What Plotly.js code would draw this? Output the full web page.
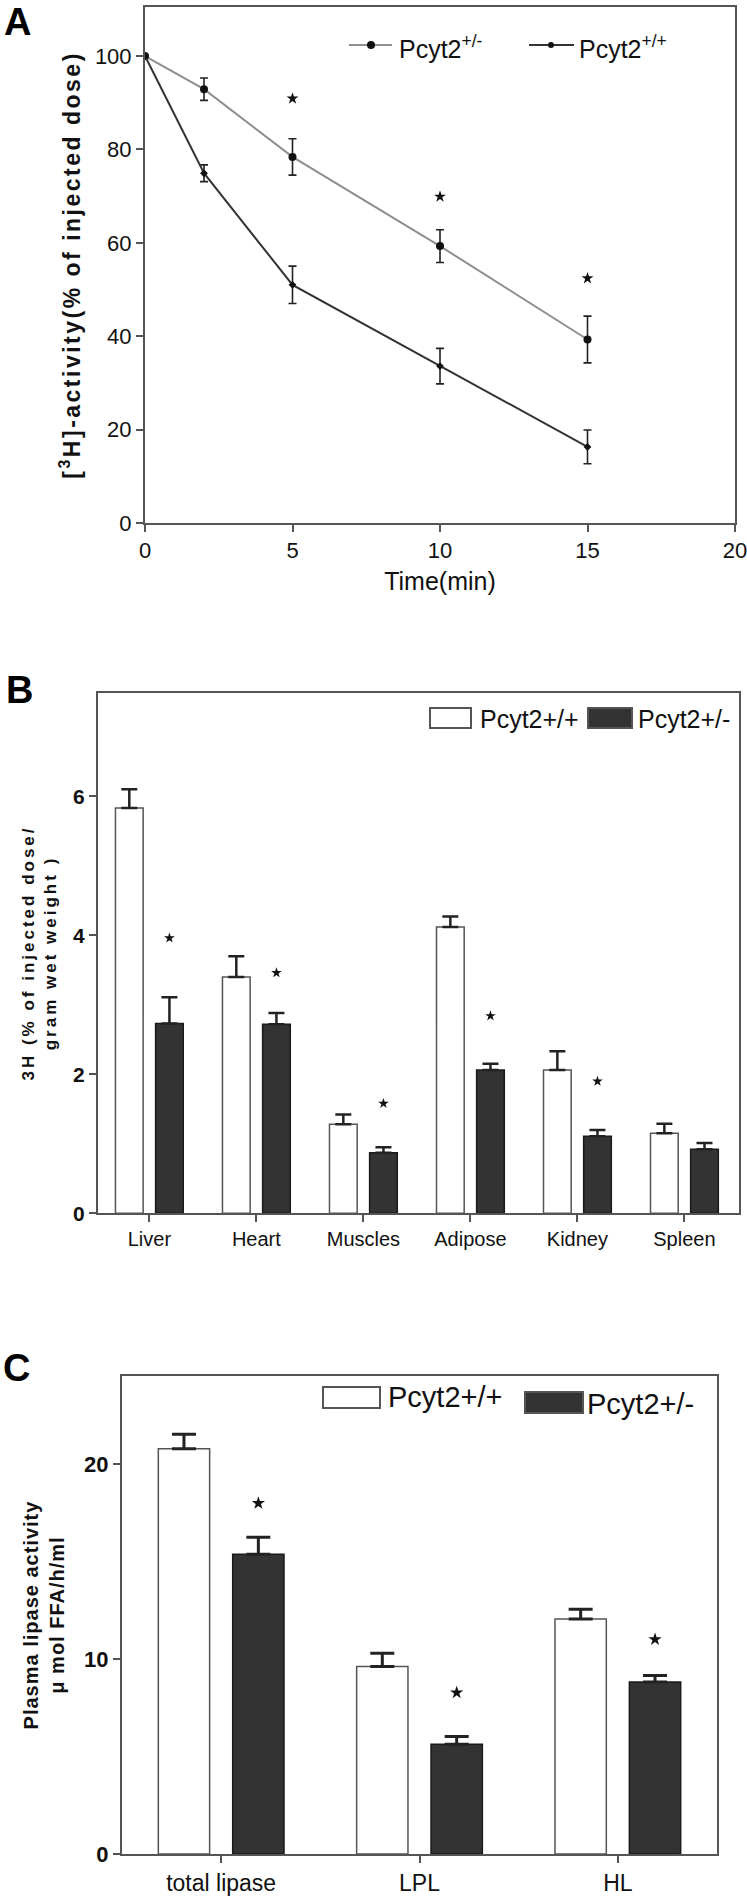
<!DOCTYPE html>
<html><head><meta charset="utf-8">
<script src="https://cdn.plot.ly/plotly-3.0.1.min.js"></script>
<style>
html,body{margin:0;padding:0;background:#fff;overflow:hidden;}
#chart{width:747px;height:1898px;}
.g-ytitle text{letter-spacing:2.5px;}
.g-y2title text{letter-spacing:3px;}
.g-y3title text{letter-spacing:1px;}
</style></head><body><div id="chart"></div>
<script>
// ---------- Panel A data ----------
const timeMin = [0, 2, 5, 10, 15];
const hetMean = [100, 92.9, 78.4, 59.3, 39.3];
const hetErr  = [0, 2.4, 3.9, 3.5, 5.0];
const wtMean  = [100, 74.9, 51.0, 33.6, 16.3];
const wtErr   = [0, 1.8, 4.0, 3.8, 3.6];
const starTimeA = [5, 10, 15];
const starYA    = [90.9, 69.9, 52.4];
const yTicksA = [0, 20, 40, 60, 80, 100];
const xTicksA = [0, 5, 10, 15, 20];
const seriesNamesA = ['Pcyt2<sup>+/-</sup>', 'Pcyt2<sup>+/+</sup>'];

// ---------- Panel B data ----------
const organs = ['Liver', 'Heart', 'Muscles', 'Adipose', 'Kidney', 'Spleen'];
const organWt     = [5.83, 3.40, 1.28, 4.12, 2.06, 1.15];
const organWtErr  = [0.27, 0.30, 0.14, 0.15, 0.27, 0.14];
const organHet    = [2.73, 2.72, 0.87, 2.06, 1.11, 0.92];
const organHetErr = [0.38, 0.16, 0.08, 0.09, 0.09, 0.09];
const organStarCats = ['Liver', 'Heart', 'Muscles', 'Adipose', 'Kidney'];
const organStarY    = [3.96, 3.46, 1.58, 2.84, 1.90];
const yTicksB = [0, 2, 4, 6];

// ---------- Panel C data ----------
const lipases = ['total lipase', 'LPL', 'HL'];
const lipaseWt     = [20.77, 9.61, 12.05];
const lipaseWtErr  = [0.75, 0.68, 0.50];
const lipaseHet    = [15.37, 5.62, 8.81];
const lipaseHetErr = [0.87, 0.40, 0.34];
const lipaseStarCats = ['total lipase', 'LPL', 'HL'];
const lipaseStarY    = [17.98, 8.27, 11.0];
const yTicksC = [0, 10, 20];

const seriesNames = ['Pcyt2+/+', 'Pcyt2+/-'];

// ---------- layout helpers ----------
const W = 747, H = 1898;
const px = v => v / W;
const py = v => 1 - v / H;
const BARGAP = 0.25, BARGROUPGAP = 0.31;
const hetShift = (1 - BARGAP) / 4;   // centre of 2nd bar in a 2-bar group

const FONT = 'Liberation Sans, Arial, sans-serif';
const NARROW = 'Liberation Sans Narrow, Arial Narrow, Liberation Sans, Arial, sans-serif';
const AX = '#555';
const HET_LINE = '#8e8e8e', WT_LINE = '#333';

const organIdx = organs.map((_, i) => i);
const lipIdx = lipases.map((_, i) => i);

const traces = [
  { x: timeMin, y: hetMean, xaxis: 'x', yaxis: 'y', mode: 'lines+markers',
    name: seriesNamesA[0], showlegend: false,
    line: { color: HET_LINE, width: 2 },
    marker: { symbol: 'circle', size: 8, color: '#111' },
    error_y: { type: 'data', array: hetErr, visible: true, color: '#222', thickness: 1.6, width: 4 } },
  { x: timeMin, y: wtMean, xaxis: 'x', yaxis: 'y', mode: 'lines+markers',
    name: seriesNamesA[1], showlegend: false,
    line: { color: WT_LINE, width: 2 },
    marker: { symbol: 'diamond', size: 6, color: '#111' },
    error_y: { type: 'data', array: wtErr, visible: true, color: '#222', thickness: 1.6, width: 4 } },
  { x: starTimeA, y: starYA, xaxis: 'x', yaxis: 'y', mode: 'markers', showlegend: false,
    marker: { symbol: 'star', size: 9, color: '#111' }, hoverinfo: 'skip' },

  { x: organIdx, y: organWt, xaxis: 'x2', yaxis: 'y2', type: 'bar', name: seriesNames[0], showlegend: false,
    marker: { color: '#fff', line: { color: '#555', width: 1.5 } },
    error_y: { type: 'data', array: organWtErr, arrayminus: organWt.map(() => 0), symmetric: false,
               color: '#222', thickness: 2.5, width: 8 } },
  { x: organIdx, y: organHet, xaxis: 'x2', yaxis: 'y2', type: 'bar', name: seriesNames[1], showlegend: false,
    marker: { color: '#333', line: { color: '#1a1a1a', width: 1.5 } },
    error_y: { type: 'data', array: organHetErr, arrayminus: organHet.map(() => 0), symmetric: false,
               color: '#222', thickness: 2.5, width: 8 } },
  { x: organStarCats.map(c => organs.indexOf(c) + hetShift), y: organStarY, xaxis: 'x2', yaxis: 'y2',
    mode: 'markers', showlegend: false, hoverinfo: 'skip',
    marker: { symbol: 'star', size: 8, color: '#111' } },

  { x: lipIdx, y: lipaseWt, xaxis: 'x3', yaxis: 'y3', type: 'bar', name: seriesNames[0], showlegend: false,
    marker: { color: '#fff', line: { color: '#555', width: 1.5 } },
    error_y: { type: 'data', array: lipaseWtErr, arrayminus: lipaseWt.map(() => 0), symmetric: false,
               color: '#222', thickness: 3, width: 12 } },
  { x: lipIdx, y: lipaseHet, xaxis: 'x3', yaxis: 'y3', type: 'bar', name: seriesNames[1], showlegend: false,
    marker: { color: '#333', line: { color: '#1a1a1a', width: 1.5 } },
    error_y: { type: 'data', array: lipaseHetErr, arrayminus: lipaseHet.map(() => 0), symmetric: false,
               color: '#222', thickness: 3, width: 12 } },
  { x: lipaseStarCats.map(c => lipases.indexOf(c) + hetShift), y: lipaseStarY, xaxis: 'x3', yaxis: 'y3',
    mode: 'markers', showlegend: false, hoverinfo: 'skip',
    marker: { symbol: 'star', size: 10, color: '#111' } }
];

const axBase = {
  showgrid: false, zeroline: false, showline: true, mirror: true, automargin: false,
  linecolor: AX, linewidth: 2, ticks: 'outside', ticklen: 7, tickwidth: 2, tickcolor: AX,
  ticklabeloverflow: 'allow'
};

function circleShape(cx, cy, r, color) {
  return { type: 'circle', xref: 'paper', yref: 'paper', x0: px(cx - r), x1: px(cx + r),
           y0: py(cy + r), y1: py(cy - r), fillcolor: color, line: { color: color, width: 0 } };
}
function lineShape(x0, x1, y, color) {
  return { type: 'line', xref: 'paper', yref: 'paper', x0: px(x0), x1: px(x1), y0: py(y), y1: py(y),
           line: { color: color, width: 2 } };
}
function rectShape(x0, x1, yTop, yBot, fill) {
  return { type: 'rect', xref: 'paper', yref: 'paper', x0: px(x0), x1: px(x1), y0: py(yBot), y1: py(yTop),
           fillcolor: fill, line: { color: '#555', width: 2 } };
}
function label(text, x, y, size, extra) {
  return Object.assign({ text: text, xref: 'paper', yref: 'paper', x: px(x), y: py(y),
           xanchor: 'left', yanchor: 'middle', showarrow: false, font: { size: size, color: '#111' } }, extra || {});
}

const layout = {
  width: W, height: H, margin: { l: 0, r: 0, t: 0, b: 0, autoexpand: false },
  paper_bgcolor: '#fff', plot_bgcolor: '#fff',
  font: { family: FONT, color: '#111' },
  barmode: 'group', bargap: BARGAP, bargroupgap: BARGROUPGAP,
  showlegend: false,
  xaxis: Object.assign({}, axBase, {
    domain: [px(145), px(735)], anchor: 'y', range: [0, 20], tickvals: xTicksA,
    tickfont: { size: 22, family: NARROW },
    title: { text: 'Time(min)', font: { size: 25, family: NARROW }, standoff: 10 } }),
  yaxis: Object.assign({}, axBase, {
    domain: [py(523), py(7)], anchor: 'x', range: [0, 110.5], tickvals: yTicksA,
    tickfont: { size: 22, family: NARROW },
    title: { text: '[<sup>3</sup>H]-activity(% of injected dose)', font: { size: 23, weight: 'bold' }, standoff: 8 } }),
  xaxis2: Object.assign({}, axBase, {
    domain: [px(98), px(739)], anchor: 'y2', range: [-0.48, 5.51],
    tickvals: organIdx, ticktext: organs, tickfont: { size: 20 } }),
  yaxis2: Object.assign({}, axBase, {
    domain: [py(1213.3), py(692.7)], anchor: 'x2', range: [0, 7.49], tickvals: yTicksB,
    tickfont: { size: 21, weight: 'bold' },
    title: { text: '3H (% of injected dose/<br>gram wet weight )', font: { size: 17, weight: 'bold' }, standoff: 12 } }),
  xaxis3: Object.assign({}, axBase, {
    domain: [px(122), px(717)], anchor: 'y3', range: [-0.5, 2.5],
    tickvals: lipIdx, ticktext: lipases, tickfont: { size: 23 } }),
  yaxis3: Object.assign({}, axBase, {
    domain: [py(1854), py(1376)], anchor: 'x3', range: [0, 24.5], tickvals: yTicksC,
    tickfont: { size: 22, weight: 'bold' },
    title: { text: 'Plasma lipase activity<br>μ mol FFA/h/ml', font: { size: 20, weight: 'bold' }, standoff: 14 } }),
  shapes: [
    // legend A
    lineShape(349, 392, 45, HET_LINE), circleShape(371, 45, 4, '#111'),
    lineShape(529, 574, 45, WT_LINE), circleShape(551, 45, 3, '#111'),
    // legend B
    rectShape(430, 471, 708, 728, '#fff'), rectShape(588, 632, 708, 728, '#333'),
    // legend C
    rectShape(323, 380, 1387, 1408, '#fff'), rectShape(525, 583, 1392, 1413, '#333')
  ],
  annotations: [
    label('A', 2, 22, 38, { font: { size: 38, weight: 'bold', color: '#000' } }),
    label('B', 4, 690, 38, { font: { size: 38, weight: 'bold', color: '#000' } }),
    label('C', 1, 1368, 38, { font: { size: 38, weight: 'bold', color: '#000' } }),
    label(seriesNamesA[0], 397, 47, 25),
    label(seriesNamesA[1], 577, 47, 25),
    label(seriesNames[0], 478, 719, 25),
    label(seriesNames[1], 636, 719, 25),
    label(seriesNames[0], 386, 1397, 29),
    label(seriesNames[1], 585, 1404, 29)
  ]
};

Plotly.newPlot('chart', traces, layout, { staticPlot: true, displayModeBar: false });
</script></body></html>
